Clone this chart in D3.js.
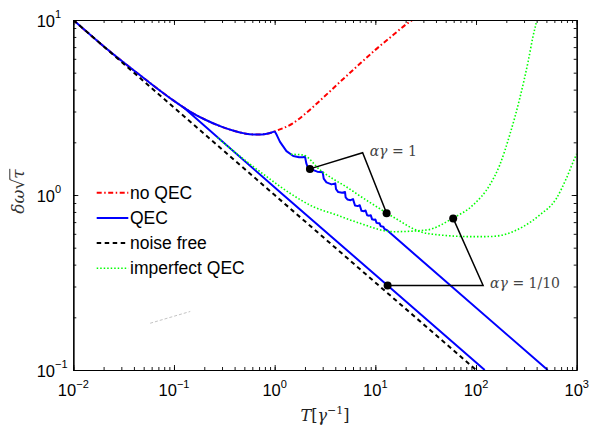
<!DOCTYPE html>
<html>
<head>
<meta charset="utf-8">
<script src="https://cdnjs.cloudflare.com/ajax/libs/d3/7.8.5/d3.min.js"></script>
<style>
  body { margin: 0; background: #fff; }
  svg { display: block; }
</style>
</head>
<body>
<div id="chart"></div>
<script>
// Values: [T in units of 1/gamma, delta-omega * sqrt(tau)]
const noiseFree = [[0.01, 10], [1, 1], [100, 0.1]];

const noQEC = [[0.01, 10], [0.02, 7.08], [0.05, 4.66], [0.1, 3.45], [0.124, 3.17], [0.15, 2.96],
  [0.2, 2.71], [0.3, 2.45], [0.4, 2.32], [0.5, 2.25], [0.61, 2.22], [0.75, 2.22], [0.9, 2.26],
  [1, 2.31], [1.5, 2.56], [2, 2.9], [3, 3.58], [4.5, 4.45], [6.5, 5.4], [10, 6.75],
  [15, 8.2], [20, 9.4], [23.8, 10.1], [30, 11.4]];

// QEC, alpha*gamma = 1/10: leaves the no-QEC curve near T = 0.12
const qecTenth = [[0.124, 3.17], [1.22, 1.0], [13.24, 0.304], [122, 0.1]];

// QEC, alpha*gamma = 1: leaves the no-QEC curve at T = 1, steps at every T = n
const qecOne = [[1, 2.31], [1.05, 2.2], [1.13, 2.01], [1.31, 1.78], [1.53, 1.67], [1.75, 1.645],
  [1.93, 1.645], [2, 1.66], [2.06, 1.52], [2.12, 1.45], [2.25, 1.41], [2.65, 1.36],
  [3, 1.35], [3.07, 1.24], [3.27, 1.18], [3.67, 1.15],
  [4, 1.165], [4.07, 1.08], [4.28, 1.04], [4.68, 1.03],
  [5, 1.04], [5.07, 0.97], [5.28, 0.943], [5.68, 0.934],
  [6, 0.947], [6.28, 0.871], [6.68, 0.864],
  [7, 0.874], [7.29, 0.812], [7.69, 0.808],
  [8, 0.815], [8.29, 0.766], [8.69, 0.762],
  [9, 0.767], [9.29, 0.726], [9.69, 0.723],
  [10, 0.725], [10.29, 0.693], [10.69, 0.69],
  [11, 0.69], [11.29, 0.665], [11.69, 0.66],
  [12, 0.659], [12.29, 0.641], [13, 0.63], [515, 0.1]];

const imperfectOne = [[1.45, 1.71], [1.93, 1.69], [2.82, 1.39], [3.82, 1.234], [5.19, 1.111],
  [7.03, 0.987], [9.53, 0.882], [12.94, 0.789], [17.54, 0.71], [22.04, 0.656], [27.7, 0.618],
  [43.74, 0.591], [93.6, 0.578], [137, 0.579], [201, 0.599], [293, 0.659], [430, 0.769],
  [629, 0.957], [790, 1.246], [955, 1.621], [1000, 1.72]];

const imperfectTenth = [[0.27, 2.13], [0.31, 1.99], [0.53, 1.55], [0.835, 1.272], [1.42, 1.023],
  [2.42, 0.857], [4.13, 0.769], [7.03, 0.689], [15.05, 0.617], [32.3, 0.631], [59.3, 0.739],
  [93.6, 0.877], [137, 1.141], [172, 1.484], [216, 2.202], [272, 3.569], [329, 5.777],
  [369, 8.1], [401, 10], [420, 11.6]];

// faint grey dashes left in the lower left of the figure
const strayDash = [[0.058, 0.185], [0.145, 0.216]];

const xTicks = [0.01, 0.1, 1, 10, 100, 1000];
const xExponents = ["\u22122", "\u22121", "0", "1", "2", "3"];
const yTicks = [0.1, 1, 10];
const yExponents = ["\u22121", "0", "1"];

const legendLabels = ["no QEC", "QEC", "noise free", "imperfect QEC"];

// annotation: dot, corner, dot
const notePaths = [
  [[2.24, 1.41], [7.48, 1.745], [12.94, 0.786]],
  [[59.3, 0.735], [117.6, 0.304], [13.24, 0.304]]
];
const noteValues = ["1", "1/10"];

// Set dimensions and margins
const margin = { top: 20, right: 12.3, bottom: 61, left: 73.3 };
const width = 589 - margin.left - margin.right;
const height = 431 - margin.top - margin.bottom;

const root = d3.select("#chart").append("svg")
  .attr("width", 589)
  .attr("height", 431);

const svg = root.append("g")
  .attr("transform", `translate(${margin.left},${margin.top})`);

const x = d3.scaleLog().domain([0.01, 1000]).range([0, width]);
const y = d3.scaleLog().domain([0.1, 10]).range([height, 0]);

// line styles
const styles = {
  noQEC: { stroke: "#ff0000", width: 2, dash: "5,2.5,1.5,2.5" },
  qec: { stroke: "#0000ff", width: 2, dash: null },
  noiseFree: { stroke: "#000000", width: 2, dash: "4.5,3.5" },
  imperfect: { stroke: "#00ff00", width: 1.6, dash: "1.5,2" }
};

svg.append("clipPath").attr("id", "plot-area")
  .append("rect").attr("width", width).attr("height", height);

const plot = svg.append("g").attr("clip-path", "url(#plot-area)");

function draw(data, st, curve) {
  plot.append("path")
    .datum(data)
    .attr("fill", "none")
    .attr("stroke", st.stroke)
    .attr("stroke-width", st.width)
    .attr("stroke-dasharray", st.dash)
    .attr("stroke-linejoin", "round")
    .attr("d", d3.line().x(d => x(d[0])).y(d => y(d[1])).curve(curve));
}

plot.append("path")
  .datum(strayDash)
  .attr("fill", "none")
  .attr("stroke", "#c4c4c4")
  .attr("stroke-width", 1)
  .attr("stroke-dasharray", "3,2")
  .attr("d", d3.line().x(d => x(d[0])).y(d => y(d[1])));

// plot order follows the legend
draw(noQEC, styles.noQEC, d3.curveMonotoneX);
draw(noQEC.filter(d => d[0] <= 1), styles.qec, d3.curveMonotoneX); // QEC equals no QEC early on
draw(qecTenth, styles.qec, d3.curveLinear);
draw(qecOne, styles.qec, d3.curveLinear);
draw(noiseFree, styles.noiseFree, d3.curveLinear);
draw(imperfectTenth, styles.imperfect, d3.curveMonotoneX);
draw(imperfectOne, styles.imperfect, d3.curveMonotoneX);

// Axes: ticks point inward on all four sides
function frame(axis, transform, values, size) {
  const g = svg.append("g")
    .attr("transform", transform)
    .call(axis.tickValues(values).tickSize(size).tickSizeOuter(0).tickFormat(""));
  g.select(".domain").attr("stroke", "#000").attr("stroke-width", 1.2);
  g.selectAll(".tick line").attr("stroke", "#000").attr("stroke-width", 0.9);
  return g;
}
frame(d3.axisBottom(x), `translate(0,${height})`, x.ticks(), -3);
frame(d3.axisBottom(x), `translate(0,${height})`, xTicks, -5);
frame(d3.axisTop(x), "translate(0,0)", x.ticks(), -3);
frame(d3.axisTop(x), "translate(0,0)", xTicks, -5);
frame(d3.axisLeft(y), "translate(0,0)", y.ticks(), -3);
frame(d3.axisLeft(y), "translate(0,0)", yTicks, -5);
frame(d3.axisRight(y), `translate(${width},0)`, y.ticks(), -3);
frame(d3.axisRight(y), `translate(${width},0)`, yTicks, -5);

const sans = "'Liberation Sans', Arial, Helvetica, sans-serif";
const serif = "'DejaVu Serif', serif";

// x tick labels 10^k, centred on the tick
xTicks.forEach((t, i) => {
  const label = svg.append("text")
    .attr("x", x(t))
    .attr("y", height + 26)
    .attr("text-anchor", "middle")
    .style("font-family", sans)
    .style("font-size", "16.5px");
  label.append("tspan").text("10");
  label.append("tspan").attr("dy", -8).style("font-size", "11px").text(xExponents[i]);
});

// y tick labels 10^k
yTicks.forEach((t, i) => {
  svg.append("text")
    .attr("x", -18.3)
    .attr("y", y(t) + 6.5)
    .attr("text-anchor", "end")
    .style("font-family", sans)
    .style("font-size", "16.5px")
    .text("10");
  svg.append("text")
    .attr("x", -18.3)
    .attr("y", y(t) - 2)
    .style("font-family", sans)
    .style("font-size", "11px")
    .text(yExponents[i]);
});

// x axis title T[gamma^-1]
const xTitle = svg.append("text")
  .attr("x", width / 2)
  .attr("y", height + 51)
  .attr("text-anchor", "middle")
  .attr("fill", "#222")
  .style("font-family", serif)
  .style("font-size", "16px");
xTitle.append("tspan").style("font-style", "italic").text("T");
xTitle.append("tspan").text("[");
xTitle.append("tspan").style("font-style", "italic").text("\u03b3");
xTitle.append("tspan").attr("dy", -7).style("font-size", "11px").text("\u22121");
xTitle.append("tspan").attr("dy", 7).text("]");

// y axis title delta-omega sqrt(tau)
const yTitle = root.append("g").attr("transform", "translate(24,191.5) rotate(-90)");
const yText = yTitle.append("text")
  .attr("text-anchor", "middle")
  .attr("fill", "#333")
  .style("font-family", serif)
  .style("font-size", "17px")
  .style("font-style", "italic")
  .text("\u03b4\u03c9\u221a\u03c4");
const yNode = yText.node();
const yLen = yNode.getComputedTextLength();
const barStart = -yLen / 2 + yNode.getSubStringLength(0, 3) - 1;
yTitle.append("line")
  .attr("x1", barStart)
  .attr("x2", yLen / 2 + 0.5)
  .attr("y1", -14.2)
  .attr("y2", -14.2)
  .attr("stroke", "#333")
  .attr("stroke-width", 1);

// Legend, no box
const legendStyles = [styles.noQEC, styles.qec, styles.noiseFree, styles.imperfect];
legendLabels.forEach((name, i) => {
  const ly = 172.7 + i * 25.2;
  svg.append("line")
    .attr("x1", 23.4).attr("x2", 55)
    .attr("y1", ly).attr("y2", ly)
    .attr("stroke", legendStyles[i].stroke)
    .attr("stroke-width", legendStyles[i].width)
    .attr("stroke-dasharray", legendStyles[i].dash);
  svg.append("text")
    .attr("x", 56.7)
    .attr("y", ly + 6)
    .style("font-family", sans)
    .style("font-size", "17.5px")
    .text(name);
});

// Annotations alpha*gamma = 1 and 1/10
notePaths.forEach((pts, i) => {
  svg.append("path")
    .datum(pts)
    .attr("fill", "none")
    .attr("stroke", "#000")
    .attr("stroke-width", 1.5)
    .attr("d", d3.line().x(d => x(d[0])).y(d => y(d[1])));
  svg.selectAll(null)
    .data([pts[0], pts[2]])
    .enter()
    .append("circle")
    .attr("cx", d => x(d[0]))
    .attr("cy", d => y(d[1]))
    .attr("r", 4)
    .attr("fill", "#000");
  const label = svg.append("text")
    .attr("x", x(pts[1][0]) + 7)
    .attr("y", y(pts[1][1]) + 3)
    .attr("fill", "#444")
    .style("font-family", serif)
    .style("font-size", "14px");
  label.append("tspan").style("font-style", "italic").text("\u03b1\u03b3");
  label.append("tspan").text(" = " + noteValues[i]);
});
</script>
</body>
</html>
